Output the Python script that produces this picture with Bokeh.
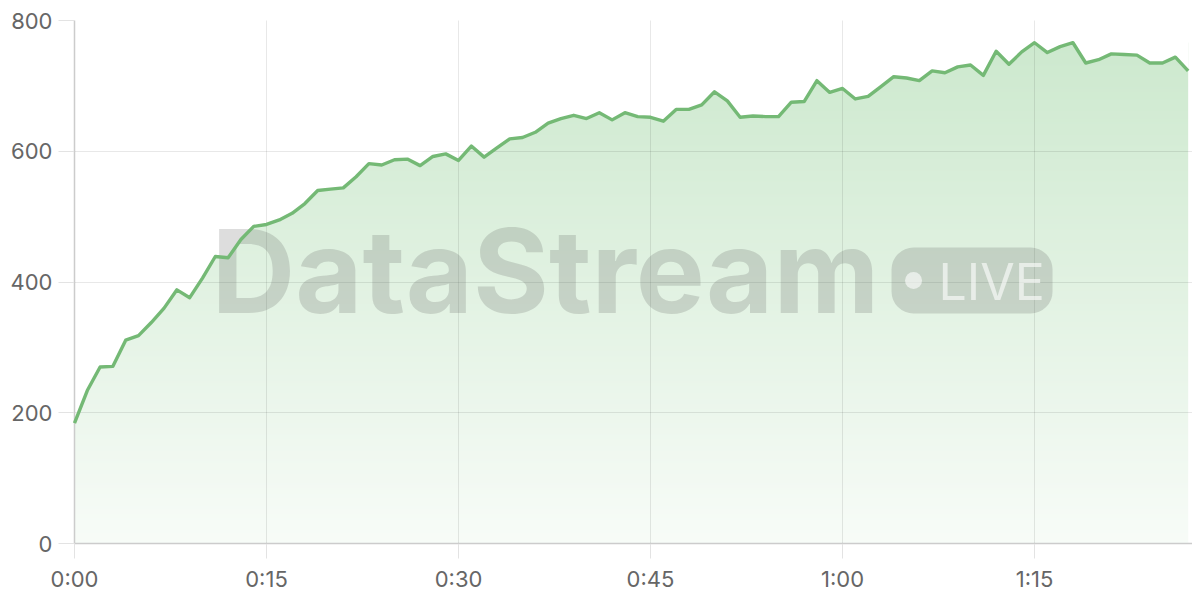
import numpy as np
from bokeh.plotting import figure
from bokeh.models import Range1d, FixedTicker, Label, BoxAnnotation
from bokeh.embed import file_html
from bokeh.resources import INLINE

# ---- data ----
minutes = list(range(0, 88))
values = [184, 234, 270, 271, 311, 318, 338, 360, 388, 376,
          406, 439, 437, 465, 485, 488, 495, 505, 520, 540,
          542, 544, 561, 581, 579, 587, 588, 578, 592, 596,
          586, 608, 591, 605, 619, 621, 629, 643, 650, 655,
          650, 659, 648, 659, 653, 652, 646, 664, 664, 671,
          691, 677, 652, 654, 653, 653, 675, 676, 708, 690,
          696, 680, 684, 699, 714, 712, 708, 723, 720, 729,
          732, 716, 753, 733, 752, 766, 751, 760, 766, 735,
          740, 749, 748, 747, 735, 735, 744, 723]
x_ticks = [0, 15, 30, 45, 60, 75]
x_tick_labels = ["0:00", "0:15", "0:30", "0:45", "1:00", "1:15"]
y_ticks = [0, 200, 400, 600, 800]

FONT = "Inter"
LINE = "#74b975"
BASE = (129, 199, 132)

p = figure(frame_width=1118, frame_height=523, output_backend="svg", toolbar_location=None,
           x_range=Range1d(0, 87.34), y_range=Range1d(0, 800),
           min_border_left=74, min_border_right=0, min_border_top=20, min_border_bottom=44)
p.outline_line_color = None
p.background_fill_color = "white"
p.border_fill_color = "white"

# ---- gradient fill (image) masked above the line ----
top = max(values)
n = 400
rows = np.zeros((n, 1), dtype=np.uint32)
view = rows.view(dtype=np.uint8).reshape((n, 1, 4))
for i in range(n):
    t = i / (n - 1)            # 0 at bottom, 1 at top
    a = 0.06 + (0.40 - 0.06) * t
    r = int(round(255 - a * (255 - BASE[0])))
    g = int(round(255 - a * (255 - BASE[1])))
    b = int(round(255 - a * (255 - BASE[2])))
    view[i, 0, :] = [r, g, b, 255]
p.image_rgba(image=[rows], x=minutes[0], y=0, dw=minutes[-1] - minutes[0], dh=top)
p.varea(x=minutes, y1=values, y2=[800] * len(values), fill_color="white", fill_alpha=1.0)

# ---- axes & grid ----
p.xaxis.ticker = FixedTicker(ticks=x_ticks)
p.xaxis.major_label_overrides = {t: l for t, l in zip(x_ticks, x_tick_labels)}
p.yaxis.ticker = FixedTicker(ticks=y_ticks)
p.xgrid.ticker = FixedTicker(ticks=x_ticks)
p.ygrid.ticker = FixedTicker(ticks=y_ticks)
for g in (p.xgrid, p.ygrid):
    g.grid_line_color = "#000000"
    g.grid_line_alpha = 0.09
    g.grid_line_width = 1
    g.level = "guide"

for ax in (p.xaxis, p.yaxis):
    ax.axis_line_color = "#cccccc"
    ax.axis_line_width = 1.5
    ax.major_tick_in = 0
    ax.major_tick_line_color = "#e3e3e3"
    ax.minor_tick_line_color = None
    ax.major_label_text_font = FONT
    ax.major_label_text_font_size = "22px"
    ax.major_label_text_color = "#666666"
p.yaxis.major_tick_out = 16
p.yaxis.major_label_standoff = 6
p.xaxis.major_tick_out = 15
p.xaxis.major_label_standoff = 7

# ---- watermark (positions in reference pixels, converted to data) ----
def px_to_x(px):
    return (px - 74) / 12.8

def px_to_y(py):
    return (543 - py) / 0.65375

wm_color = "#555555"
wm_alpha = 0.2
big = 116
p.add_layout(Label(x=px_to_x(211), y=px_to_y(313 - 0.363 * big), text="DataStream", text_font=FONT,
                   text_font_style="bold", text_font_size=f"{big}px", text_color=wm_color,
                   text_alpha=wm_alpha, text_align="left", text_baseline="alphabetic"))
p.add_layout(BoxAnnotation(left=px_to_x(891), right=px_to_x(1052), top=px_to_y(247),
                           bottom=px_to_y(313), fill_color=wm_color, fill_alpha=wm_alpha,
                           line_color=None, border_radius=22))
dot = p.scatter(x=[px_to_x(913)], y=[px_to_y(280)], size=17, marker="circle",
                fill_color="white", fill_alpha=0.6, line_color=None)
dot.level = "overlay"
small = 50
p.add_layout(Label(x=px_to_x(938), y=px_to_y(297 - 0.31 * small), text="LIVE", text_font=FONT,
                   text_font_size=f"{small}px", text_color="white", text_alpha=0.6,
                   text_align="left", text_baseline="alphabetic"))

# ---- line ----
ln = p.line(x=minutes, y=values, line_color=LINE, line_width=3.4, line_join="round")
ln.level = "overlay"

open("out.html", "w").write(file_html(p, INLINE))
